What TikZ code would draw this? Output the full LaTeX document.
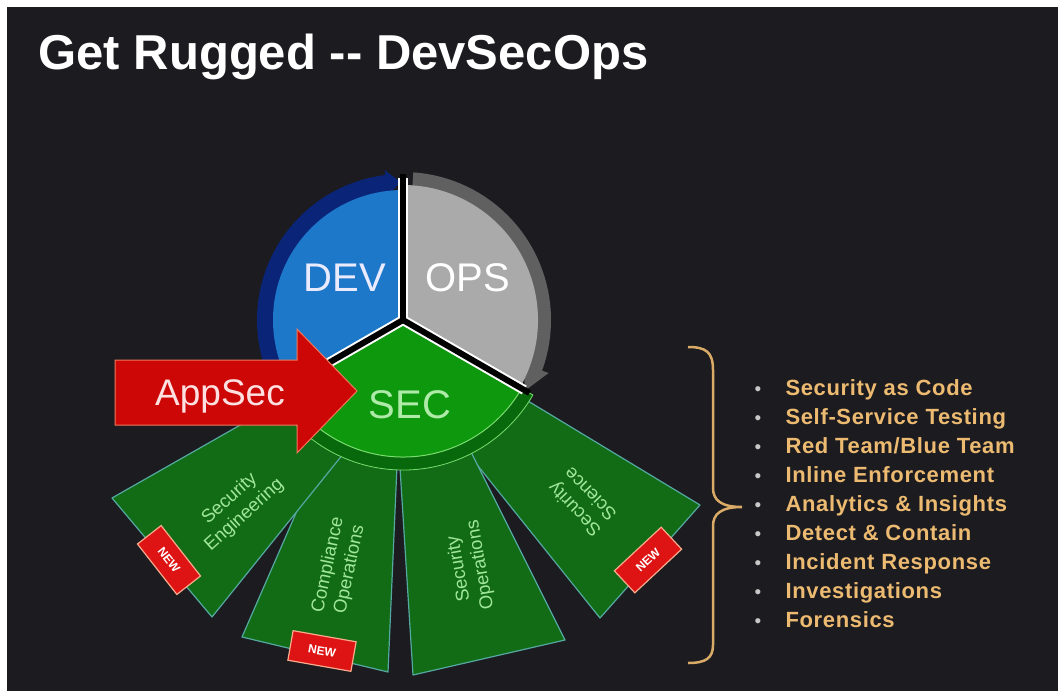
\documentclass[tikz,border=0pt]{standalone}
\usepackage{fontspec}
\setmainfont{Liberation Sans}

\definecolor{bg}{RGB}{28,27,32}
\definecolor{devblue}{RGB}{30,120,202}
\definecolor{devring}{RGB}{10,36,120}
\definecolor{opsgray}{RGB}{170,170,170}
\definecolor{opsring}{RGB}{96,96,96}
\definecolor{secgreen}{RGB}{14,152,14}
\definecolor{secring}{RGB}{8,104,12}
\definecolor{seclight}{RGB}{120,220,110}
\definecolor{bladegreen}{RGB}{18,108,22}
\definecolor{bladeedge}{RGB}{84,168,160}
\definecolor{bladetext}{RGB}{160,230,155}
\definecolor{newred}{RGB}{222,20,20}
\definecolor{newedge}{RGB}{248,170,140}
\definecolor{appred}{RGB}{205,6,6}
\definecolor{appedge}{RGB}{240,120,90}
\definecolor{listgold}{RGB}{236,186,112}
\definecolor{dotgray}{RGB}{200,200,200}

\tikzset{
  blade/.style={fill=bladegreen,draw=bladeedge,line width=1.2pt,line join=round},
  bladelabel/.style={text=bladetext,align=center,font=\fontsize{18.5}{22}\selectfont},
  newbadge/.style={fill=newred,draw=newedge,line width=1.2pt,minimum width=64pt,minimum height=30pt,
    inner sep=0pt,text=white,font=\bfseries\fontsize{12}{12}\selectfont},
  pielabel/.style={font=\fontsize{40}{40}\selectfont},
  listitem/.style={anchor=base west,text=listgold,
    font=\bfseries\fontsize{22}{22}\selectfont\addfontfeatures{LetterSpace=3}},
  dot/.style={anchor=base,text=dotgray,font=\fontsize{19}{19}\selectfont},
}

\begin{document}
\begin{tikzpicture}[x=1pt,y=-1pt]

	\useasboundingbox (0,0) rectangle (1058,691);
	\fill[white] (0,0) rectangle (1058,691);
	\fill[bg] (7,7) rectangle (1058,691);

	% the fan of green cards under SEC
	\draw[blade] (600,618) -- (700,505) -- (480,372) -- (454,436) -- cycle;
	\draw[blade] (413,675) -- (565,640) -- (450,410) -- (397,420) -- cycle;
	\draw[blade] (242,637) -- (388,672) -- (399,420) -- (340,412) -- cycle;
	\draw[blade] (112,498) -- (212,617) -- (360,433) -- (300,391) -- cycle;

	\node[bladelabel,rotate=42] (seceng) at (237,507) {Security\\Engineering};
	\node[bladelabel,rotate=78] (compops) at (339,567) {Compliance\\Operations};
	\node[bladelabel,rotate=100] (secops) at (470,567) {Security\\Operations};
	\node[bladelabel,rotate=134] (secsci) at (582,502) {Security\\Science};

	\node[newbadge,rotate=-52] (new1) at (169,560) {NEW};
	\node[newbadge,rotate=-10] (new2) at (322,651) {NEW};
	\node[newbadge,rotate=43] (new3) at (648,560) {NEW};

	% the DEV / OPS / SEC wheel
	\begin{scope}[shift={(403,320)},yscale=-1]
		\fill[devring] (205:146) arc (205:97:146) -- (97:151) -- (91:138) -- (97:125) arc (97:205:125) -- cycle;
		\fill[opsring] (86:148) arc (86:-20:148) -- (-20:155) -- (-30:141) -- (-20:128) arc (-20:86:128) -- cycle;
		\filldraw[secring,draw=seclight,line width=0.8pt] (0,0) -- (210:150) arc (210:330:150) -- cycle;

		\fill[devblue] (0,0) -- (90:130) arc (90:210:130) -- cycle;
		\fill[opsgray] (0,0) -- (-30:135) arc (-30:90:135) -- cycle;
		\filldraw[secgreen,draw=seclight,line width=1pt] (0,0) -- (210:137) arc (210:330:137) -- cycle;

		\draw[white,line width=10pt] (0,0) -- (90:142);
		\draw[white,line width=10pt] (0,0) -- (210:136);
		\draw[white,line width=10pt] (0,0) -- (-30:140);
		\draw[black,line width=6pt] (0,0) -- (90:146);
		\draw[black,line width=6pt] (0,0) -- (210:140);
		\draw[black,line width=6pt] (0,0) -- (-30:146);
	\end{scope}

	% AppSec arrow
	\filldraw[appred,draw=appedge,line width=1pt,line join=miter]
		(115,360) -- (297,360) -- (297,329) -- (357,391) -- (297,453) -- (297,425) -- (115,425) -- cycle;

	\node[pielabel,text=white!92!blue] (dev) at (345,278) {DEV};
	\node[pielabel,text=white] (ops) at (468,278) {OPS};
	\node[pielabel,text=seclight!60!white] (sec) at (410,405) {SEC};
	\node[anchor=base,text=white!88!red,font=\fontsize{37}{37}\selectfont] (appsec) at (220,405) {AppSec};

	% title
	\node[anchor=base west,text=white,font=\bfseries\fontsize{49}{49}\selectfont] (title) at (35,69) {Get Rugged -{}- DevSecOps};

	% brace and list
	\draw[listgold!92!black,line width=2.5pt]
		(688,347) .. controls (706,347) and (713,352) .. (713,370) -- (713,488)
		.. controls (713,500) and (721,507) .. (742,507)
		.. controls (721,507) and (713,514) .. (713,526) -- (713,645)
		.. controls (713,658) and (706,663) .. (688,663);

	\node[dot] (d1) at (758,395) {•};
	\node[dot] (d2) at (758,424) {•};
	\node[dot] (d3) at (758,453) {•};
	\node[dot] (d4) at (758,482) {•};
	\node[dot] (d5) at (758,511) {•};
	\node[dot] (d6) at (758,540) {•};
	\node[dot] (d7) at (758,569) {•};
	\node[dot] (d8) at (758,598) {•};
	\node[dot] (d9) at (758,627) {•};

	\node[listitem] (item1) at (782,395) {Security as Code};
	\node[listitem] (item2) at (782,424) {Self-Service Testing};
	\node[listitem] (item3) at (782,453) {Red Team/Blue Team};
	\node[listitem] (item4) at (782,482) {Inline Enforcement};
	\node[listitem] (item5) at (782,511) {Analytics \& Insights};
	\node[listitem] (item6) at (782,540) {Detect \& Contain};
	\node[listitem] (item7) at (782,569) {Incident Response};
	\node[listitem] (item8) at (782,598) {Investigations};
	\node[listitem] (item9) at (782,627) {Forensics};

\end{tikzpicture}
\end{document}
